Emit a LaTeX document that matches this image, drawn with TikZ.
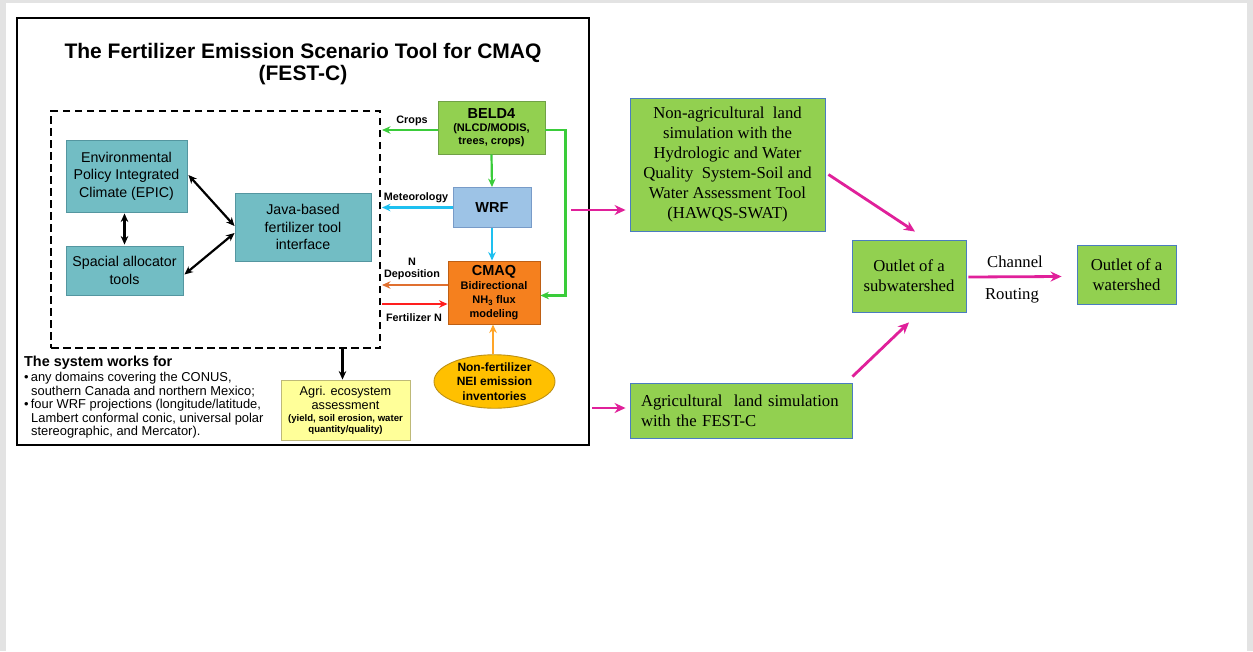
\documentclass[tikz,border=0pt]{standalone}
\usepackage{fontspec}
\setmainfont{Liberation Sans}
\newfontfamily\serifface{Liberation Serif}
\usetikzlibrary{shapes.geometric,arrows.meta,calc}
\definecolor{teal1}{RGB}{114,189,196}
\definecolor{teal2}{RGB}{84,150,160}
\definecolor{grn}{RGB}{146,208,80}
\definecolor{grnb}{RGB}{112,160,70}
\definecolor{blueb}{RGB}{74,124,192}
\definecolor{wrff}{RGB}{157,195,230}
\definecolor{wrfb}{RGB}{120,155,200}
\definecolor{cmaqf}{RGB}{245,128,30}
\definecolor{cmaqb}{RGB}{190,95,20}
\definecolor{ellf}{RGB}{255,192,0}
\definecolor{ellb}{RGB}{190,145,20}
\definecolor{agrf}{RGB}{255,255,153}
\definecolor{agrb}{RGB}{190,185,120}
\definecolor{lgreen}{RGB}{58,204,58}
\definecolor{lcyan}{RGB}{30,192,240}
\definecolor{ndep}{RGB}{224,112,48}
\definecolor{fred}{RGB}{255,30,30}
\definecolor{nfor}{RGB}{255,165,40}
\definecolor{mag}{RGB}{224,32,154}
\newcommand{\fsz}[2]{\fontsize{#1}{#2}\selectfont}
\begin{document}
\begin{tikzpicture}[x=1pt,y=-1pt,
  box/.style={draw, line width=0.9pt, inner sep=0pt, align=center},
  tealbox/.style={box, fill=teal1, draw=teal2, font=\fsz{14.2}{17.5}},
  rbox/.style={box, fill=grn, draw=blueb, font=\serifface\fsz{16.7}{20}},
  tip/.style={-{Stealth[length=8.5pt,width=7.5pt]}},
  dtip/.style={{Stealth[length=8.5pt,width=7.5pt]}-{Stealth[length=8.5pt,width=7.5pt]}},
  conn/.style={line width=2.2pt},
  mconn/.style={-{Stealth[length=11pt,width=10pt]}, mag, line width=2.8pt},
  lab/.style={inner sep=0pt, font=\bfseries\fsz{10.8}{12}},
  bul/.style={inner sep=0pt, anchor=west, font=\fsz{12.9}{14}}
]
\fill[gray!22] (0,0) rectangle (1253,651);
\fill[white] (6,3) rectangle (1247,651);
\useasboundingbox (0,0) rectangle (1253,651);

% outer FEST-C frame
\node[draw, line width=2.8pt, minimum width=572pt, minimum height=427pt, inner sep=0pt] (frame) at (303,231.5) {};
\node[inner sep=0pt, font=\bfseries\fsz{21}{22}, align=center] (title) at (303,64) {The Fertilizer Emission Scenario Tool for CMAQ\\(FEST-C)};

% dashed box
\node[draw, dash pattern=on 7.5pt off 4.5pt, line width=2pt, minimum width=329pt, minimum height=237pt, inner sep=0pt] (dash) at (215.5,229.5) {};

\node[tealbox, minimum width=121pt, minimum height=72pt] (epic) at (126.5,176) {Environmental\\Policy Integrated\\Climate (EPIC)};
\node[tealbox, minimum width=117pt, minimum height=49pt] (spa) at (124.5,270.5) {Spacial allocator\\tools};
\node[tealbox, minimum width=136pt, minimum height=68pt] (java) at (303,227) {Java-based\\fertilizer tool\\interface};

\draw[dtip, conn] ($(epic.east)+(1,-1)$) -- ($(java.west)+(0,-1)$);
\draw[dtip, conn] ($(spa.east)+(1,4)$) -- ($(java.west)+(0,6)$);
\draw[dtip, conn] ($(epic.south)+(-2,1)$) -- ($(spa.north)+(0,-1)$);

% right-side models
\node[box, fill=grn, draw=grnb, minimum width=107pt, minimum height=53pt, font=\bfseries\fsz{11}{12.5}] (beld) at (491.5,127.5) {{\fsz{14.5}{16}BELD4}\\[1pt](NLCD/MODIS,\\trees, crops)};
\node[box, fill=wrff, draw=wrfb, minimum width=78pt, minimum height=40pt, font=\bfseries\fsz{14.5}{16}] (wrf) at (492,207.5) {WRF};
\node[box, fill=cmaqf, draw=cmaqb, minimum width=92pt, minimum height=63pt, font=\bfseries\fsz{11}{14}] (cmaq) at (494,292.5) {{\fsz{14.5}{16}CMAQ}\\Bidirectional\\NH\textsubscript{3} flux\\modeling};
\node[ellipse, draw=ellb, fill=ellf, line width=0.9pt, minimum width=121pt, minimum height=49pt, inner sep=0pt, align=center, font=\bfseries\fsz{12}{14.5}] (nei) at (494.5,381.5) {Non-fertilizer\\NEI emission\\inventories};
\node[box, fill=agrf, draw=agrb, minimum width=129pt, minimum height=60pt, font=\fsz{12.7}{14.5}] (agri) at (345.5,410) {Agri. ecosystem\\assessment\\[-2.5pt]{\bfseries\fsz{9.6}{11}(yield, soil erosion, water}\\[-4pt]{\bfseries\fsz{9.6}{11}quantity/quality)}};

% connectors inside frame
\draw[tip, lgreen, conn] ($(beld.west)+(0,2.5)$) -- ($(beld.west -| dash.east)+(1,2.5)$);
\node[lab] (lcrops) at (412,121) {Crops};
\draw[tip, lgreen, conn] (beld.south) -- (wrf.north);
\draw[tip, lgreen, conn] ($(beld.east)+(0,2.5)$) -- ++(20,0) |- ($(cmaq.east)+(0,3)$);
\draw[tip, lcyan, conn] (wrf.west) -- ($(wrf.west -| dash.east)+(1,0)$);
\node[lab] (lmet) at (416,198) {Meteorology};
\draw[tip, lcyan, conn] (wrf.south) -- (wrf.south |- cmaq.north);
\coordinate (ndepS) at ($(cmaq.west)+(0,-7.5)$);
\draw[tip, ndep, conn] (ndepS) -- ($(ndepS -| dash.east)+(1,0)$);
\node[lab, align=center] (lndep) at (412,269) {N\\Deposition};
\coordinate (fertE) at ($(cmaq.west)+(0,11.5)$);
\draw[tip, fred, conn] ($(fertE -| dash.east)+(1,0)$) -- (fertE);
\node[lab] (lfert) at (414,318) {Fertilizer N};
\draw[tip, nfor, conn] ($(nei.north)+(-1.5,0)$) -- ($(nei.north |- cmaq.south)+(-1.5,0)$);
\draw[tip, black, conn] ($(agri.north |- dash.south)+(-3,0)$) -- ($(agri.north)+(-3,0)$);

% system works for
\node[inner sep=0pt, anchor=west, font=\bfseries\fsz{14.4}{15}] (sys) at (24,363) {The system works for};
\node[bul] (b1) at (24,378.5) {\textbullet\,any domains covering the CONUS,};
\node[bul] (b2) at (31,392) {southern Canada and northern Mexico;};
\node[bul] (b3) at (24,405.5) {\textbullet\,four WRF projections (longitude/latitude,};
\node[bul] (b4) at (31,419) {Lambert conformal conic, universal polar};
\node[bul] (b5) at (31,432.5) {stereographic, and Mercator).};

% right part
\node[rbox, minimum width=195pt, minimum height=133pt] (nonag) at (727.5,164.5) {Non-agricultural\ \ land\\simulation with the\\Hydrologic and Water\\Quality\ \ System-Soil and\\Water Assessment Tool\\(HAWQS-SWAT)};
\node[rbox, minimum width=222pt, minimum height=55pt, align=left, text width=200pt] (ag) at (741,410.5) {Agricultural\ \ land simulation\\with the FEST-C};
\node[rbox, minimum width=114pt, minimum height=72pt] (sub) at (909,276) {Outlet of a\\subwatershed};
\node[rbox, minimum width=99pt, minimum height=59pt] (wat) at (1126.5,274.5) {Outlet of a\\watershed};

\coordinate (m1) at (571,210);
\coordinate (m2) at (592,408);
\draw[mconn] (m1) -- ($(m1 -| nonag.west)+(-4,0)$);
\draw[mconn] (m2) -- ($(m2 -| ag.west)+(-4,0)$);
\draw[mconn] ($(nonag.east)+(3,10)$) -- ($(sub.north)+(6,-8)$);
\draw[mconn] ($(ag.north east)+(0,-6)$) -- ($(sub.south)+(0,10)$);
\draw[mconn] ($(sub.east)+(2,1)$) -- ($(wat.west)+(-15,2)$);
\node[inner sep=0pt, font=\serifface\fsz{16.7}{18}] (lch) at (1015,262) {Channel};
\node[inner sep=0pt, font=\serifface\fsz{16.7}{18}] (lrt) at (1012,296) {Routing};
\end{tikzpicture}
\end{document}
